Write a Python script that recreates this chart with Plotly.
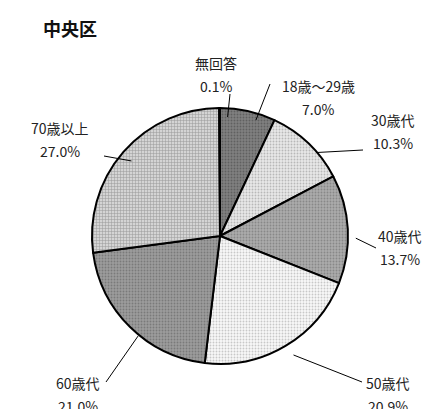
import math
import plotly.graph_objects as go

labels = ["18歳～29歳", "30歳代", "40歳代", "50歳代", "60歳代", "70歳以上", "無回答"]
values = [7.0, 10.3, 13.7, 20.9, 21.0, 27.0, 0.1]
pct_text = ["7.0%", "10.3%", "13.7%", "20.9%", "21.0%", "27.0%", "0.1%"]

W, H = 430, 409
cx, cy, r = 220, 237, 128
dom_cx, dom_cy = 212, 228  # domain placement compensating plotly's offset

# label anchor (pixels) and where each leader line ends near its label
label_pos = [(310, 78), (385, 112), (392, 228), (380, 375), (70, 375), (52, 120), (208, 55)]
line_end = [(262, 76), (355, 142), (368, 240), (354, 374), (98, 374), (96, 148), (222, 86)]
bg = ["#808080", "#e8e8e8", "#ababab", "#f8f8f8", "#9c9c9c", "#d4d4d4", "#ffffff"]
fg = ["#606060", "#b8b8b8", "#888888", "#c8c8c8", "#7a7a7a", "#999999", "#ffffff"]
shapes_ = [".", ".", ".", ".", ".", "+", ""]

fig = go.Figure(go.Pie(
    labels=labels, values=values, sort=False, direction="clockwise", rotation=0,
    textinfo="none", hoverinfo="label+percent",
    marker=dict(colors=bg, line=dict(color="black", width=2),
                pattern=dict(shape=shapes_, fgcolor=fg, bgcolor=bg, size=3, solidity=0.3)),
    domain=dict(x=[(dom_cx - r) / W, (dom_cx + r) / W], y=[1 - (dom_cy + r) / H, 1 - (dom_cy - r) / H]),
    showlegend=False,
))

font = dict(family="Noto Sans CJK JP", size=14, color="#222")
total = sum(values)
cum = 0
for i, v in enumerate(values):
    mid = (cum + v / 2) / total
    cum += v
    th = 2 * math.pi * mid
    ex, ey = cx + r * math.sin(th), cy - r * math.cos(th)
    lx, ly = line_end[i]
    fig.add_shape(type="line", xref="paper", yref="paper",
                  x0=ex / W, y0=1 - ey / H, x1=lx / W, y1=1 - ly / H,
                  line=dict(color="black", width=1))
    px, py = label_pos[i]
    for j, t in enumerate([labels[i], pct_text[i]]):
        fig.add_annotation(x=px / W, y=1 - (py + 23 * j) / H, xref="paper", yref="paper",
                           text=t, showarrow=False, font=font,
                           xanchor="center", yanchor="middle")

fig.add_annotation(x=33 / W, y=1 - 20 / H, xref="paper", yref="paper", text="<b>中央区</b>",
                   showarrow=False, xanchor="left", yanchor="middle",
                   font=dict(family="Noto Sans CJK JP", size=18, color="#111"))

fig.update_layout(width=W, height=H, margin=dict(l=0, r=0, t=0, b=0),
                  paper_bgcolor="white", plot_bgcolor="white")
fig.write_html("out.html")
